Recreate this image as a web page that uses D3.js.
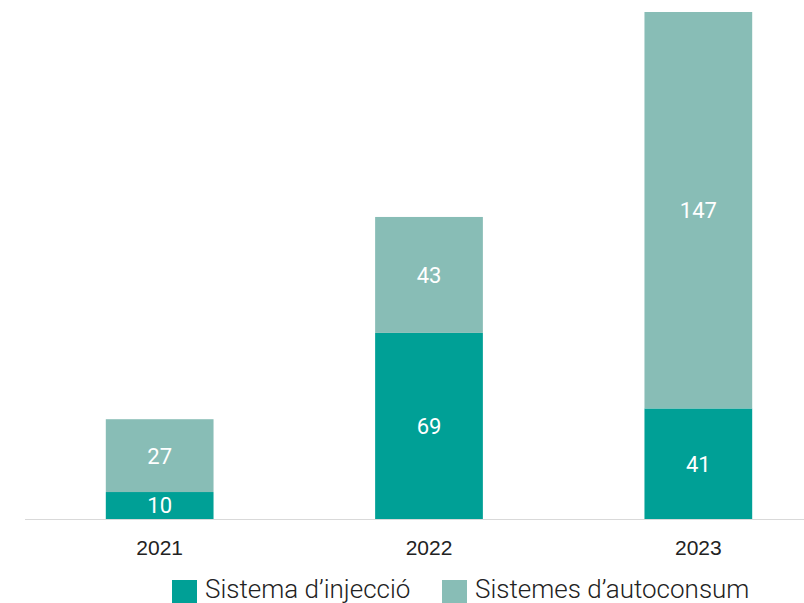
<!DOCTYPE html>
<html>
<head>
<meta charset="utf-8">
<script src="https://cdn.jsdelivr.net/npm/d3@7"></script>
<style>
  body { margin: 0; background: #fff; }
  svg { font-family: Roboto, "Liberation Sans", sans-serif; }
</style>
</head>
<body>
<div id="chart"></div>
<script>
// Data
var years = ["2021", "2022", "2023"];
var injeccio = [10, 69, 41];
var autoconsum = [27, 43, 147];
var seriesNames = ["Sistema d\u2019injecció", "Sistemes d\u2019autoconsum"];
var colors = ["#00a096", "#88bdb6"];

var width = 804, height = 603;
var baseY = 519;

var svg = d3.select("#chart").append("svg")
    .attr("width", width)
    .attr("height", height);

var x = d3.scaleBand()
    .domain(years)
    .range([25, 833])
    .paddingInner(0.6)
    .paddingOuter(0.3);

var y = d3.scaleLinear()
    .domain([0, 188])
    .range([baseY, 12]);

var rows = years.map(function(yr, i) {
    return { year: yr, injeccio: injeccio[i], autoconsum: autoconsum[i] };
});
var stack = d3.stack().keys(["injeccio", "autoconsum"])(rows);

// Bars
var layers = svg.selectAll("g.layer")
    .data(stack)
    .enter().append("g")
    .attr("class", "layer")
    .attr("fill", function(d, i) { return colors[i]; });

layers.selectAll("rect")
    .data(function(d) { return d; })
    .enter().append("rect")
    .attr("x", function(d) { return x(d.data.year); })
    .attr("width", x.bandwidth())
    .attr("y", function(d) { return y(d[1]); })
    .attr("height", function(d) { return y(d[0]) - y(d[1]); });

// Value labels, centred in each segment
layers.selectAll("text")
    .data(function(d) { return d; })
    .enter().append("text")
    .attr("x", function(d) { return x(d.data.year) + x.bandwidth() / 2; })
    .attr("y", function(d) { return (y(d[0]) + y(d[1])) / 2; })
    .attr("dy", "0.36em")
    .attr("text-anchor", "middle")
    .attr("fill", "#fff")
    .style("font-size", "22px")
    .text(function(d) { return d[1] - d[0]; });

// X axis
var xAxis = svg.append("g")
    .attr("transform", "translate(0," + baseY + ")")
    .call(d3.axisBottom(x).tickSize(0).tickPadding(21));
xAxis.select(".domain").remove();
xAxis.selectAll("text")
    .style("font-size", "21px")
    .attr("fill", "#222");

svg.append("line")
    .attr("x1", 25).attr("x2", width)
    .attr("y1", baseY + 0.5).attr("y2", baseY + 0.5)
    .attr("stroke", "#d9d9d9")
    .attr("stroke-width", 1.2);

// Legend
var legendX = [172, 442];
var legend = svg.selectAll("g.legend")
    .data(seriesNames)
    .enter().append("g")
    .attr("class", "legend")
    .attr("transform", function(d, i) { return "translate(" + legendX[i] + ",580)"; });

legend.append("rect")
    .attr("width", 25)
    .attr("height", 23)
    .attr("fill", function(d, i) { return colors[i]; });

legend.append("text")
    .attr("x", 33)
    .attr("y", 18)
    .style("font-size", "26px")
    .style("font-weight", 300)
    .attr("fill", "#222")
    .text(function(d) { return d; });
</script>
</body>
</html>
